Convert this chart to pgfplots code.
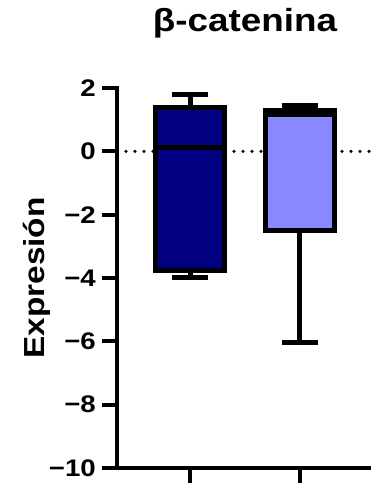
\documentclass[border=0pt]{standalone}
\usepackage{fontspec}
\setmainfont[FakeStretch=1.15]{Liberation Sans}
\usepackage{pgfplots}
\pgfplotsset{compat=1.18}
\usepgfplotslibrary{statistics}
\definecolor{navybox}{RGB}{0,0,128}
\definecolor{lightbox}{RGB}{136,136,255}
\begin{document}
\begin{tikzpicture}[x=1pt,y=1pt]
\path[use as bounding box] (-117,-18) rectangle (253,468);
\begin{axis}[
  at={(0,0)}, anchor=south west,
  scale only axis, width=256pt, height=380pt,
  xmin=0.336, xmax=2.664, ymin=-10, ymax=2,
  axis x line=bottom, axis y line=left,
  axis line style={-, line width=4pt, line cap=rect},
  xtick={1,2}, xticklabels={},
  ytick={-10,-8,-6,-4,-2,0,2},
  yticklabels={−10,−8,−6,−4,−2,0,2},
  tick style={line width=4pt, black},
  major tick length=15pt,
  tick align=outside,
  /pgf/number format/assume math mode=true,
  yticklabel style={font=\fontsize{24}{26}\selectfont\bfseries, inner xsep=0pt, xshift=-6pt},
  title={β-catenina},
  title style={font=\fontsize{32}{34}\selectfont\bfseries, at={(0.5,1)}, anchor=base, yshift=50pt},
  ylabel={Expresión},
  ylabel style={font=\fontsize{29}{32}\selectfont\bfseries, at={(axis description cs:-0.28125,0.5)}, rotate=0, anchor=base},
  boxplot/draw direction=y,
  clip=false,
]
\addplot[black, line width=3.5pt, dash pattern=on 0pt off 9pt, line cap=round, forget plot] coordinates {(0.336,0) (2.664,0)};
\addplot[boxplot prepared={median=0.11, upper quartile=1.37, lower quartile=-3.75, upper whisker=1.78, lower whisker=-3.97, draw position=1, box extend=0.63, whisker extend=0.33},
  draw=black, fill=navybox, line width=5pt] coordinates {};
\addplot[boxplot prepared={median=1.16, upper quartile=1.29, lower quartile=-2.50, upper whisker=1.44, lower whisker=-6.05, draw position=2, box extend=0.63, whisker extend=0.33},
  draw=black, fill=lightbox, line width=5pt] coordinates {};
\end{axis}
\end{tikzpicture}
\end{document}
